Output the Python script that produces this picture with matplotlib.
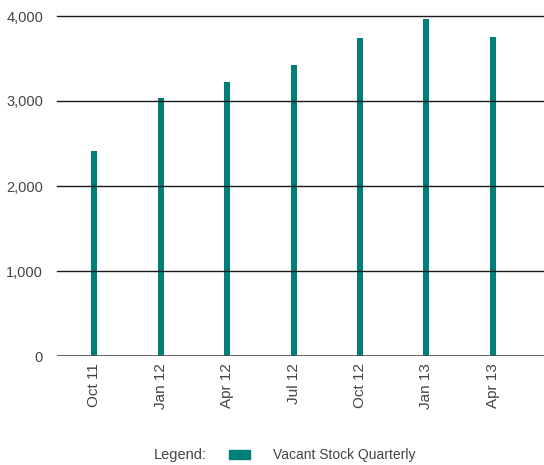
import matplotlib.pyplot as plt
from matplotlib.patches import Patch

plt.rcParams["font.family"] = ["Liberation Sans", "DejaVu Sans"]

quarters = ["Oct 11", "Jan 12", "Apr 12", "Jul 12", "Oct 12", "Jan 13", "Apr 13"]
vacant_stock = [2410, 3035, 3225, 3425, 3740, 3965, 3755]
y_ticks = [0, 1000, 2000, 3000, 4000]
y_labels = ["0", "1,000", "2,000", "3,000", "4,000"]

bar_color = "#007f7a"
text_color = "#444444"

fig = plt.figure(figsize=(5.44, 4.65), dpi=100)
ax = fig.add_axes([57 / 544, 1 - 356 / 465, 1 - 57 / 544, 340 / 465])

x = list(range(len(quarters)))
ax.bar(x, vacant_stock, width=0.09, color=bar_color, zorder=2)

for v in y_ticks[1:]:
    ax.axhline(v, color="#1a1a1a", lw=1.0, zorder=3, clip_on=False)
ax.axhline(0, color="#555555", lw=1.3, zorder=3)

ax.set_xlim(-0.56, 6.77)
ax.set_ylim(0, 4000)
ax.set_yticks(y_ticks)
ax.set_yticklabels(y_labels)
ax.set_xticks(x)
ax.set_xticklabels(quarters, rotation=90)
ax.tick_params(axis="y", length=0, pad=10, labelsize=10.5, labelcolor=text_color)
ax.tick_params(axis="x", length=0, pad=5, labelsize=11, labelcolor=text_color)
for s in ax.spines.values():
    s.set_visible(False)

fig.text(154 / 544, 1 - 455 / 465, "Legend:", fontsize=10.5, color=text_color,
         va="center", ha="left")
fig.legend(handles=[Patch(color=bar_color, label="Vacant Stock Quarterly")],
           loc="center left", bbox_to_anchor=(229 / 544, 1 - 455 / 465),
           frameon=False, fontsize=10, labelcolor=text_color,
           handlelength=1.5, handleheight=0.6, handletextpad=1.65,
           borderpad=0, borderaxespad=0)

fig.savefig("out.png", dpi=100)
